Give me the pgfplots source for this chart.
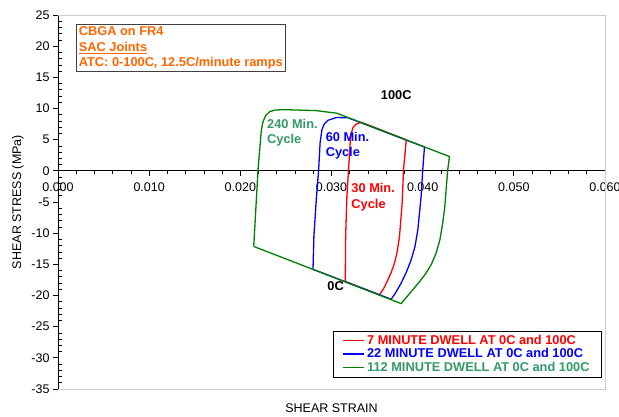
\documentclass[border=0pt]{standalone}
\usepackage{fontspec}
\setmainfont{Liberation Sans}
\usepackage{pgfplots}
\pgfplotsset{compat=1.18}
\definecolor{cred}{RGB}{255,0,0}
\definecolor{cblue}{RGB}{0,0,255}
\definecolor{cgreen}{RGB}{0,128,0}
\definecolor{tgreen}{RGB}{51,153,102}
\definecolor{corange}{RGB}{255,102,0}
\definecolor{bordergray}{RGB}{205,205,205}
\newcommand{\fs}{\fontsize{12.5}{15}\selectfont}
\newcommand{\fb}{\fontsize{12.8}{15.5}\selectfont\bfseries}
\begin{document}
\begin{tikzpicture}
\path[use as bounding box] (0,0) rectangle (619pt,416pt);
\begin{axis}[
  at={(58pt,27pt)}, anchor=south west,
  width=547pt, height=374pt, scale only axis,
  xmin=0, xmax=0.06, ymin=-35, ymax=25,
  axis x line=middle, axis y line=left,
  hide obscured x ticks=false, hide obscured y ticks=false,
  axis line style={-, black, line width=0.8pt},
  xtick={0,0.01,0.02,0.03,0.04,0.05,0.06},
  ytick={-35,-30,-25,-20,-15,-10,-5,0,5,10,15,20,25},
  minor x tick num=4, minor y tick num=4,
  scaled x ticks=false,
  tick align=outside,
  major tick length=5pt, minor tick length=3.5pt,
  tick style={black, line width=0.7pt},
  minor y tick style={xshift=3.5pt},
  xticklabel style={/pgf/number format/fixed, /pgf/number format/fixed zerofill, /pgf/number format/precision=3, yshift=-3pt},
  /pgf/number format/assume math mode=true,
  tick label style={font=\fs},
  xlabel={SHEAR STRAIN},
  ylabel={SHEAR STRESS (MPa)},
  label style={font=\fs},
  xlabel style={at={(axis description cs:0.5,-0.0508)}, anchor=center},
  ylabel style={at={(axis description cs:-0.0731,0.5)}, anchor=center},
  legend style={at={(rel axis cs:0.994,0.031)}, anchor=south east, draw=black, fill=white, font=\fb, row sep=-1pt, inner xsep=10pt, inner ysep=2pt},
  legend cell align=left,
  legend image code/.code={\draw[#1, line width=1.3pt] (0pt,0pt) -- (21pt,0pt);},
  clip=false,
]
\draw[bordergray, line width=0.8pt] (rel axis cs:0,0) -- (rel axis cs:1,0) -- (rel axis cs:1,1) -- (rel axis cs:0,1);

\addplot[cred, line width=1.3pt] coordinates {
 (0.03151,-17.75) (0.03155,-10.5) (0.03169,-4.1) (0.03187,0.16) (0.03205,4.5) (0.03217,6.0)
 (0.03235,6.9) (0.0327,7.5) (0.03326,7.8) (0.0382,4.97) (0.0379,0.16) (0.03775,-5.18)
 (0.03746,-10.5) (0.0372,-13.0) (0.03691,-14.8) (0.03655,-16.3) (0.03618,-17.5) (0.03575,-18.8) (0.03527,-19.9) (0.03151,-17.75)
};
\addlegendentry{\textcolor{cred}{7 MINUTE DWELL AT 0C and 100C}}

\addplot[cblue, line width=1.3pt] coordinates {
 (0.02797,-15.8) (0.02807,-10.5) (0.02833,-4.65) (0.02859,0.16) (0.02875,4.5) (0.02895,6.6)
 (0.0292,7.5) (0.0296,8.1) (0.03052,8.55) (0.0318,8.52) (0.0402,3.82) (0.04001,0.16)
 (0.03983,-4.1) (0.03947,-9.46) (0.03915,-12.2) (0.03874,-14.26) (0.0382,-16.3) (0.03764,-18.0) (0.0371,-19.4) (0.03655,-20.6)
 (0.02797,-15.8)
};
\addlegendentry{\textcolor{cblue}{22 MINUTE DWELL AT 0C and 100C}}

\addplot[cgreen, line width=1.3pt] coordinates {
 (0.02147,-12.13) (0.02194,0.16) (0.0223,6.5) (0.02249,7.9) (0.0228,8.9) (0.02322,9.5) (0.0238,9.75) (0.02468,9.82)
 (0.02833,9.66) (0.0306,9.24) (0.04294,2.29) (0.04275,0.16) (0.04257,-3.04) (0.04242,-5.9)
 (0.0422,-8.38) (0.0419,-11.0) (0.04148,-13.2) (0.04095,-15.0) (0.04038,-16.4) (0.03965,-17.8) (0.03892,-19.07) (0.03764,-21.3)
 (0.02147,-12.13)
};
\addlegendentry{\textcolor{tgreen}{112 MINUTE DWELL AT 0C and 100C}}

\node[anchor=north west, draw=black!75, line width=0.8pt, fill=white, inner sep=2pt, inner xsep=2.5pt, align=left, text=corange, font=\fb]
  at (axis cs:0.00197,23.5) {CBGA on FR4\\\underline{SAC Joints}\\ATC: 0-100C, 12.5C/minute ramps};
\node[font=\fb, inner sep=0pt] at (axis cs:0.0371,12.2) {100C};
\node[font=\fb, inner sep=0pt] at (axis cs:0.03045,-18.5) {0C};
\node[font=\fb, text=tgreen, anchor=west, align=left, inner sep=0pt] at (axis cs:0.02292,6.1) {240 Min.\\Cycle};
\node[font=\fb, text=cblue, anchor=west, align=left, inner sep=0pt] at (axis cs:0.02935,4.0) {60 Min.\\Cycle};
\node[font=\fb, text=cred, anchor=west, align=left, inner sep=0pt] at (axis cs:0.03217,-4.25) {30 Min.\\Cycle};
\end{axis}
\end{tikzpicture}
\end{document}
